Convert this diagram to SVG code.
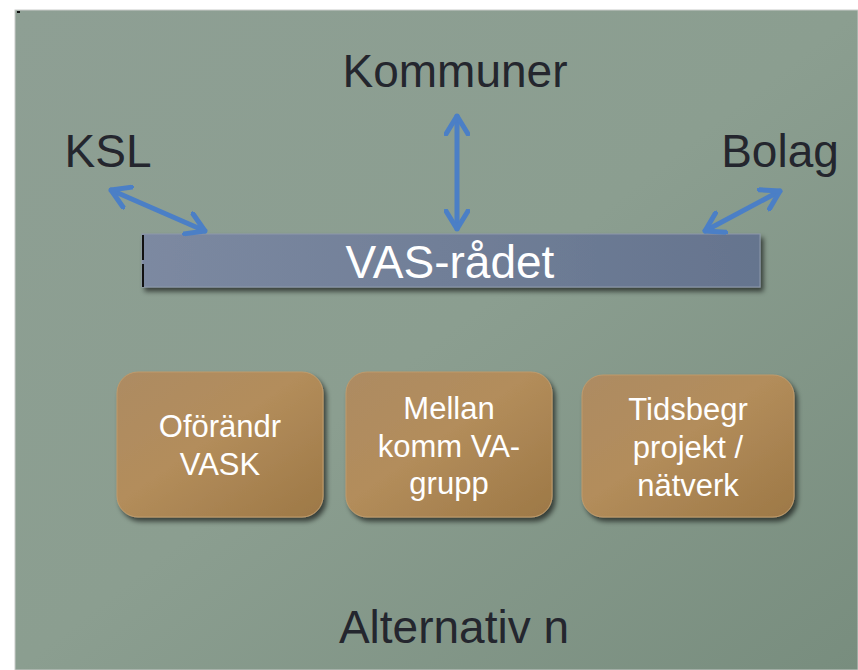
<svg xmlns="http://www.w3.org/2000/svg" width="858" height="670" viewBox="0 0 858 670">
<defs>
<linearGradient id="bg" x1="0" y1="0" x2="1" y2="1">
<stop offset="0" stop-color="#8e9f94"/>
<stop offset="0.5" stop-color="#8b9e90"/>
<stop offset="1" stop-color="#788d7e"/>
</linearGradient>
<linearGradient id="bar" x1="0" y1="0" x2="1" y2="0">
<stop offset="0" stop-color="#7c89a1"/>
<stop offset="1" stop-color="#65748e"/>
</linearGradient>
<linearGradient id="box" x1="0" y1="0" x2="1" y2="1">
<stop offset="0" stop-color="#ad8b63"/>
<stop offset="0.45" stop-color="#b38d5b"/>
<stop offset="1" stop-color="#9d7846"/>
</linearGradient>
<filter id="sh" x="-10%" y="-20%" width="130%" height="150%">
<feGaussianBlur in="SourceAlpha" stdDeviation="2.5"/>
<feOffset dx="3" dy="4" result="b"/>
<feComponentTransfer><feFuncA type="linear" slope="0.6"/></feComponentTransfer>
<feMerge><feMergeNode/><feMergeNode in="SourceGraphic"/></feMerge>
</filter>
<marker id="ah" viewBox="0 0 22 26" refX="20" refY="13" markerWidth="22" markerHeight="26" markerUnits="userSpaceOnUse" orient="auto-start-reverse">
<path d="M2,2 L20,13 L2,24" fill="none" stroke="#4b7fc6" stroke-width="5" stroke-linecap="round" stroke-linejoin="round"/>
</marker>
<style>
.lbl{font-family:"Liberation Sans",Arial,sans-serif;font-size:46px;fill:#24262e;text-anchor:middle}
.bt{font-family:"Liberation Sans",Arial,sans-serif;font-size:31px;fill:#ffffff;text-anchor:middle}
.conn{stroke:#4b7fc6;stroke-width:5;fill:none;stroke-linecap:round}
.node{stroke:#bf9a6b;stroke-width:1;fill:url(#box)}
</style>
</defs>
<rect x="0" y="0" width="858" height="670" fill="#ffffff"/>
<rect x="15" y="10" width="843" height="660" fill="url(#bg)" stroke="#c9cbc9" stroke-width="1"/>
<rect x="17" y="11" width="3" height="2" fill="#111"/>

<g id="kommuner"><text class="lbl" x="455" y="87">Kommuner</text></g>
<g id="ksl"><text class="lbl" x="108" y="167">KSL</text></g>
<g id="bolag"><text class="lbl" x="780" y="167">Bolag</text></g>

<g id="vas-radet">
<rect x="142" y="234" width="618" height="53" fill="url(#bar)" stroke="#8d98ab" stroke-width="1" filter="url(#sh)"/>
<rect x="142" y="235" width="2" height="25" fill="#111"/>
<rect x="142" y="264" width="2" height="23" fill="#111"/>
<text x="450" y="278" font-family="Liberation Sans, Arial, sans-serif" font-size="46" fill="#ffffff" text-anchor="middle">VAS-rådet</text>
</g>

<g id="connectors">
<line class="conn" x1="457" y1="116" x2="457" y2="229" marker-start="url(#ah)" marker-end="url(#ah)"/>
<line class="conn" x1="111" y1="190" x2="205" y2="231" marker-start="url(#ah)" marker-end="url(#ah)"/>
<line class="conn" x1="780" y1="191" x2="705" y2="231" marker-start="url(#ah)" marker-end="url(#ah)"/>
</g>

<g id="oforandr-vask">
<rect class="node" x="117" y="372" width="206" height="145" rx="21" filter="url(#sh)"/>
<text class="bt" x="220" y="437">Oförändr</text>
<text class="bt" x="220" y="475">VASK</text>
</g>
<g id="mellan-komm">
<rect class="node" x="346" y="372" width="206" height="145" rx="21" filter="url(#sh)"/>
<text class="bt" x="449" y="419">Mellan</text>
<text class="bt" x="449" y="457">komm VA-</text>
<text class="bt" x="449" y="494">grupp</text>
</g>
<g id="tidsbegr">
<rect class="node" x="582" y="375" width="212" height="142" rx="21" filter="url(#sh)"/>
<text class="bt" x="688" y="420">Tidsbegr</text>
<text class="bt" x="688" y="458">projekt /</text>
<text class="bt" x="688" y="496">nätverk</text>
</g>

<g id="alternativ"><text class="lbl" x="454" y="643">Alternativ n</text></g>
</svg>
